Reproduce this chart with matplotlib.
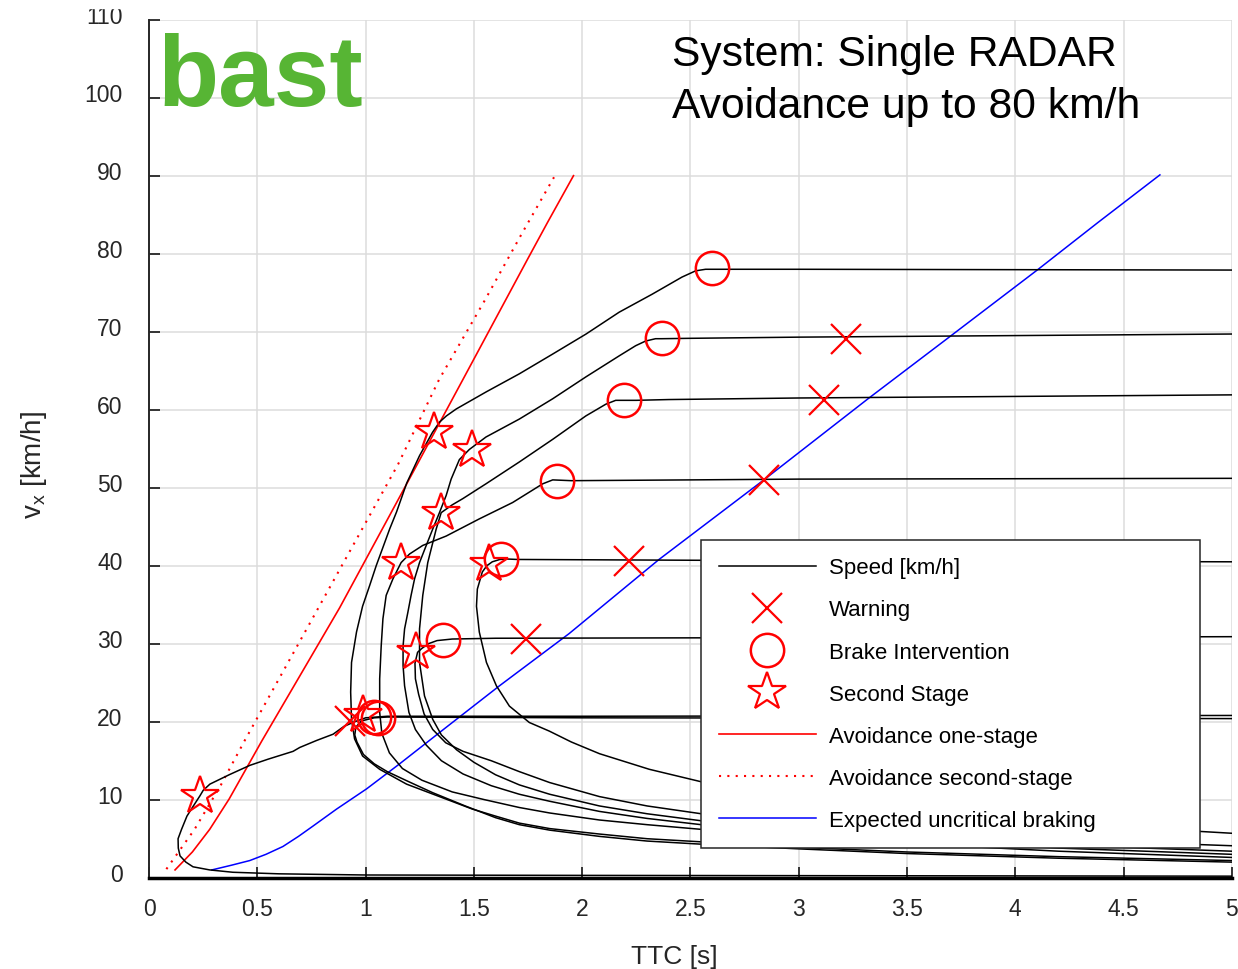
import matplotlib
matplotlib.use("Agg")
import matplotlib.pyplot as plt
from matplotlib.lines import Line2D
from matplotlib.patches import Rectangle
import matplotlib.transforms as mtransforms

plt.rcParams['font.family'] = ['Liberation Sans', 'DejaVu Sans']
plt.rcParams['mathtext.default'] = 'regular'

# speed trajectories (TTC [s], v [km/h]), one per initial speed
ttc_78 = [5.0, 4.0, 3.0, 2.62, 2.57, 2.524, 2.461, 2.323, 2.171, 2.018, 1.862, 1.71, 1.558, 1.419, 1.373,
          1.341, 1.309, 1.249, 1.19, 1.143, 1.111, 1.049, 1.018, 0.986, 0.958, 0.935, 0.931, 0.935, 0.949,
          0.986, 1.065, 1.189, 1.341, 1.493, 1.6, 1.71, 1.85, 2.08, 2.3, 2.55, 3.0, 3.5, 4.2, 5.0]
v_78 = [77.9, 77.95, 78.0, 78.0, 78.0, 77.8, 77.0, 74.8, 72.5, 69.7, 67.1, 64.6, 62.3, 60.1, 59.2,
        58.4, 57.1, 54.1, 50.6, 46.9, 44.7, 40.0, 37.4, 34.8, 31.5, 27.6, 23.8, 20.3, 17.8,
        15.6, 13.9, 12.0, 10.4, 8.8, 7.9, 7.0, 6.3, 5.6, 5.0, 4.6, 3.9, 3.3, 2.7, 2.2]

ttc_69 = [5.0, 4.0, 3.0, 2.5, 2.367, 2.339, 2.293, 2.247, 2.171, 2.017, 1.864, 1.71, 1.556, 1.479, 1.433,
          1.395, 1.372, 1.341, 1.31, 1.28, 1.249, 1.226, 1.21, 1.195, 1.18, 1.173, 1.173, 1.18, 1.2, 1.23,
          1.28, 1.35, 1.45, 1.58, 1.71, 1.85, 2.08, 2.3, 2.55, 3.0, 3.5, 4.2, 5.0]
v_69 = [69.7, 69.5, 69.3, 69.15, 69.1, 69.1, 68.8, 68.2, 66.9, 64.2, 61.4, 58.8, 56.5, 54.9, 53.6,
        51.1, 49.0, 46.8, 44.7, 42.6, 40.4, 38.3, 36.2, 34.0, 31.9, 29.7, 27.2, 24.6, 21.2, 19.0,
        17.0, 15.0, 13.3, 11.8, 10.7, 9.8, 8.5, 7.6, 6.8, 5.7, 4.8, 3.8, 3.0]

ttc_61 = [5.0, 4.0, 3.0, 2.4, 2.25, 2.155, 2.109, 2.017, 1.864, 1.71, 1.556, 1.449, 1.4, 1.349, 1.326,
          1.287, 1.264, 1.249, 1.249, 1.272, 1.31, 1.35, 1.42, 1.5, 1.6, 1.71, 1.85, 2.08, 2.3, 2.55,
          3.0, 3.5, 4.2, 5.0]
v_61 = [61.9, 61.7, 61.5, 61.3, 61.2, 61.2, 60.7, 59.2, 56.2, 53.3, 50.5, 48.6, 47.8, 46.8, 44.7,
        40.4, 36.2, 31.9, 27.6, 23.3, 20.3, 18.3, 16.4, 14.8, 13.2, 11.9, 10.7, 9.2, 8.2, 7.3,
        6.1, 5.2, 4.2, 3.4]

ttc_51 = [5.0, 4.0, 3.0, 2.5, 1.95, 1.864, 1.818, 1.679, 1.525, 1.372, 1.264, 1.203, 1.164, 1.126, 1.095,
          1.08, 1.072, 1.065, 1.065, 1.075, 1.11, 1.17, 1.26, 1.4, 1.55, 1.71, 1.85, 2.08, 2.3, 2.55,
          3.0, 3.5, 4.2, 5.0]
v_51 = [51.2, 51.15, 51.1, 51.0, 50.9, 51.0, 50.5, 48.1, 46.0, 43.8, 42.6, 41.5, 40.4, 38.3, 36.2,
        33.2, 29.7, 25.5, 21.2, 18.5, 16.0, 14.0, 12.5, 11.0, 10.0, 9.0, 8.3, 7.4, 6.8, 6.2,
        5.2, 4.4, 3.4, 2.6]

ttc_40 = [5.0, 3.5, 2.5, 1.7, 1.66, 1.62, 1.585, 1.56, 1.539, 1.516, 1.512, 1.525, 1.558, 1.604, 1.664,
          1.756, 1.848, 1.95, 2.08, 2.31, 2.55, 3.0, 3.5, 4.0, 4.5, 5.0]
v_40 = [40.5, 40.6, 40.7, 40.8, 40.85, 40.8, 40.5, 40.0, 39.2, 37.0, 34.8, 31.5, 27.6, 24.6, 22.0,
        19.9, 18.8, 17.4, 15.9, 13.9, 12.3, 10.2, 8.6, 7.4, 6.5, 5.7]

ttc_30 = [5.0, 3.5, 2.5, 1.6, 1.4, 1.33, 1.29, 1.26, 1.24, 1.228, 1.23, 1.245, 1.27, 1.31, 1.37, 1.45,
          1.58, 1.71, 1.85, 2.08, 2.3, 2.55, 3.0, 3.5, 4.2, 5.0]
v_30 = [30.9, 30.8, 30.75, 30.7, 30.6, 30.4, 30.0, 29.4, 28.9, 27.5, 25.5, 23.5, 21.0, 19.0, 17.3, 16.2,
        15.0, 13.6, 12.2, 10.4, 9.2, 8.2, 6.9, 5.9, 4.9, 4.1]

ttc_20a = [5.0, 3.5, 2.0, 1.1, 1.04, 0.98, 0.955, 0.95, 0.96, 0.99, 1.04, 1.1, 1.2, 1.31, 1.46, 1.6,
           1.71, 1.85, 2.08, 2.3, 2.55, 3.0, 3.5, 4.2, 5.0]
v_20a = [20.4, 20.45, 20.5, 20.6, 20.5, 20.1, 19.3, 18.3, 17.4, 15.8, 14.6, 13.6, 12.3, 10.9, 9.2, 7.7,
         6.8, 6.1, 5.3, 4.7, 4.3, 3.7, 3.1, 2.5, 2.0]

ttc_20b = [5.0, 3.5, 2.0, 1.1, 1.0, 0.95, 0.9, 0.85, 0.774, 0.696, 0.665, 0.55, 0.465, 0.37, 0.281, 0.25,
           0.235, 0.2, 0.175, 0.15, 0.134, 0.135, 0.143, 0.17, 0.203, 0.28, 0.387, 0.6, 1.0, 2.0, 5.0]
v_20b = [20.8, 20.75, 20.7, 20.7, 20.5, 20.0, 19.4, 18.4, 17.6, 16.7, 16.2, 15.2, 14.4, 13.2, 12.0, 11.2,
         10.5, 9.0, 7.9, 6.2, 5.0, 3.8, 2.8, 2.0, 1.4, 1.0, 0.7, 0.5, 0.35, 0.3, 0.2]

speed_runs = [(ttc_78, v_78), (ttc_69, v_69), (ttc_61, v_61), (ttc_51, v_51),
              (ttc_40, v_40), (ttc_30, v_30), (ttc_20a, v_20a), (ttc_20b, v_20b)]

# event markers
warn_ttc = [3.22, 3.115, 2.839, 2.217, 1.742, 0.926]
warn_v = [69.0, 61.3, 51.0, 40.6, 30.6, 20.1]
brake_ttc = [2.598, 2.367, 2.194, 1.883, 1.627, 1.359, 1.04, 1.055]
brake_v = [78.1, 69.2, 61.2, 50.9, 40.9, 30.5, 20.6, 20.5]
stage2_ttc = [1.318, 1.49, 1.349, 1.164, 1.571, 1.234, 0.99, 0.235]
stage2_v = [57.2, 54.8, 46.8, 40.4, 40.2, 28.9, 20.8, 10.5]

# reference lines
one_stage_ttc = [0.12, 0.2, 0.28, 0.37, 0.52, 0.88, 1.19, 1.45, 1.75, 1.84, 1.96]
one_stage_v = [1.0, 3.3, 6.2, 10.1, 17.5, 34.6, 50.5, 63.9, 79.4, 84.0, 90.0]
two_stage_ttc = [0.08, 0.21, 0.33, 0.44, 0.7, 0.95, 1.15, 1.34, 1.55, 1.72, 1.87]
two_stage_v = [1.1, 6.2, 11.8, 17.5, 30.5, 43.0, 53.0, 63.9, 74.0, 82.5, 89.8]
uncrit_ttc = [0.29, 0.38, 0.465, 0.54, 0.618, 0.69, 0.756, 0.866, 1.005, 1.157, 1.373, 1.618, 1.94,
              2.355, 2.839, 3.32, 3.69, 4.106, 4.382, 4.668]
uncrit_v = [1.0, 1.6, 2.2, 3.0, 4.0, 5.3, 6.6, 8.8, 11.4, 14.6, 19.3, 24.6, 31.3,
            40.8, 51.0, 61.4, 69.2, 78.0, 84.0, 90.1]

xtick_vals = [0, 0.5, 1, 1.5, 2, 2.5, 3, 3.5, 4, 4.5, 5]
xtick_labels = ['0', '0.5', '1', '1.5', '2', '2.5', '3', '3.5', '4', '4.5', '5']
ytick_vals = list(range(0, 111, 10))

fig = plt.figure(figsize=(12.38, 9.70), dpi=100)
ax = fig.add_axes([0.1204, 0.0941, 0.8746, 0.8846])

for t, v in speed_runs:
    ax.plot(t, v, color='black', lw=1.1, zorder=3)

ax.plot(one_stage_ttc, one_stage_v, color='red', lw=1.2, zorder=2)
ax.plot(two_stage_ttc, two_stage_v, color='red', lw=1.5, linestyle=(0, (1, 3)), zorder=2)
ax.plot(uncrit_ttc, uncrit_v, color='blue', lw=1.1, zorder=2)

ax.plot(warn_ttc, warn_v, 'x', color='red', ms=21, mew=1.6, zorder=4)
ax.plot(brake_ttc, brake_v, 'o', color='red', ms=24, mew=1.8, fillstyle='none', zorder=4)
ax.plot(stage2_ttc, stage2_v, '*', color='red', ms=29, mew=1.6, fillstyle='none', zorder=4)

ax.set_xlim(0, 5)
ax.set_ylim(0, 110)
ax.set_xticks(xtick_vals)
ax.set_xticklabels(xtick_labels)
ax.set_yticks(ytick_vals)
ax.grid(True, color='#dcdcdc', lw=1.1)
ax.set_axisbelow(True)
for s in ['top', 'right']:
    ax.spines[s].set_visible(False)
ax.spines['left'].set_color('#262626')
ax.spines['left'].set_linewidth(1.4)
ax.spines['bottom'].set_color('black')
ax.spines['bottom'].set_linewidth(2.5)
ax.tick_params(direction='in', length=8, width=1.3, colors='#262626', labelsize=16.5)
ax.tick_params(axis='x', pad=14)
ax.tick_params(axis='y', pad=19)

# y tick labels sit a little above their ticks, like the original
up = mtransforms.ScaledTranslation(0, 4 / 72, fig.dpi_scale_trans)
for lab in ax.get_yticklabels():
    lab.set_transform(lab.get_transform() + up)

ax.set_xlabel('TTC [s]', fontsize=19, color='#262626')
ax.xaxis.set_label_coords(0.485, -0.077)
ax.set_ylabel('v$_x$ [km/h]', fontsize=20, color='#262626')
ax.yaxis.set_label_coords(-0.092, 0.482)

fig.text(672 / 1238, 1 - 35 / 970, 'System: Single RADAR\nAvoidance up to 80 km/h',
         fontsize=30.7, va='top', ha='left', linespacing=1.38, color='black')

# logo
fig.text(157 / 1238, 1 - 106 / 970, 'bast', fontsize=72, fontweight='bold', color='#57b534',
         va='baseline', ha='left')

handles = [
    Line2D([], [], color='black', lw=1.1),
    Line2D([], [], marker='x', color='red', ms=21, mew=1.6, ls='none'),
    Line2D([], [], marker='o', color='red', ms=24, mew=1.8, fillstyle='none', ls='none'),
    Line2D([], [], marker='*', color='red', ms=29, mew=1.6, fillstyle='none', ls='none'),
    Line2D([], [], color='red', lw=1.2),
    Line2D([], [], color='red', lw=1.5, linestyle=(0, (1, 3))),
    Line2D([], [], color='blue', lw=1.1),
]
labels = ['Speed [km/h]', 'Warning', 'Brake Intervention', 'Second Stage',
          'Avoidance one-stage', 'Avoidance second-stage', 'Expected uncritical braking']
leg = ax.legend(handles, labels, loc='upper left', bbox_to_anchor=(0.51, 0.038, 0.461, 0.3556),
                mode='expand', borderaxespad=0, fontsize=16, frameon=True, fancybox=False,
                framealpha=1, edgecolor='#262626', handlelength=4.4, handletextpad=0.55,
                labelspacing=0.95, borderpad=0.78)
leg.get_frame().set_linewidth(1.1)
leg.set_zorder(10)

# the original image is cropped just above the top tick label
fig.patches.append(Rectangle((0, 1 - 9 / 970), 1, 9 / 970, transform=fig.transFigure,
                             color='white', zorder=100))

fig.savefig('out.png', dpi=100)
